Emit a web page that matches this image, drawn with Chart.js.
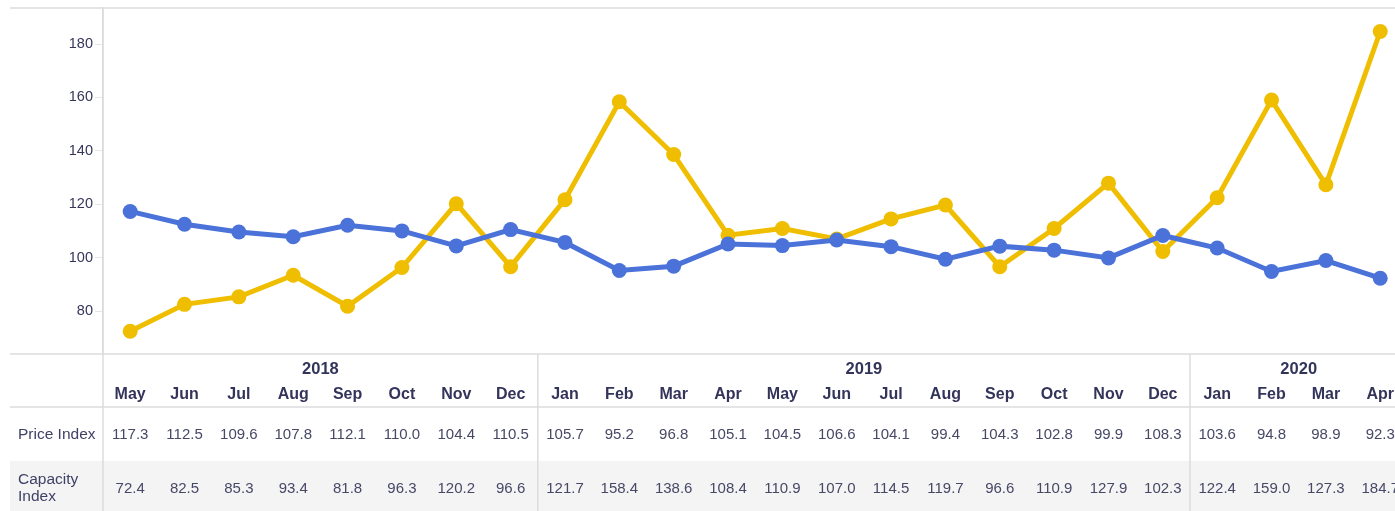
<!DOCTYPE html>
<html>
<head>
<meta charset="utf-8">
<script src="https://cdn.jsdelivr.net/npm/chart.js@4.4.1/dist/chart.umd.min.js"></script>
<style>
  html, body { margin: 0; padding: 0; background: #ffffff; overflow: hidden; width: 1395px; height: 511px; }
  #wrap { position: relative; width: 1420px; height: 511px; }
</style>
</head>
<body>
<div id="wrap"><canvas id="c"></canvas></div>
<script>
const months = ['May','Jun','Jul','Aug','Sep','Oct','Nov','Dec','Jan','Feb','Mar','Apr','May','Jun','Jul','Aug','Sep','Oct','Nov','Dec','Jan','Feb','Mar','Apr'];
const yearLabels = ['2018','2019','2020'];
const yearSpans = [8, 12, 4];
const priceIndex = [117.3,112.5,109.6,107.8,112.1,110.0,104.4,110.5,105.7,95.2,96.8,105.1,104.5,106.6,104.1,99.4,104.3,102.8,99.9,108.3,103.6,94.8,98.9,92.3];
const capacityIndex = [72.4,82.5,85.3,93.4,81.8,96.3,120.2,96.6,121.7,158.4,138.6,108.4,110.9,107.0,114.5,119.7,96.6,110.9,127.9,102.3,122.4,159.0,127.3,184.7];
const rowLabels = ['Price Index', 'Capacity Index'];
const yTicks = [80, 100, 120, 140, 160, 180];

const BLUE = '#4a72d9';
const YELLOW = '#f0be00';
const LINE = '#dcdcdc';
const FONT = '"Liberation Sans", Arial, sans-serif';

const tablePlugin = {
  id: 'tablePlugin',
  afterDraw(chart) {
    const ctx = chart.ctx;
    const x = chart.scales.x;
    const area = chart.chartArea;
    const W = chart.width;
    const n = months.length;
    const colW = (area.right - area.left) / n;
    const yTop = area.top, yHead = area.bottom, yRow1 = 407, yRow2 = 461, yEnd = 511;
    ctx.save();
    ctx.fillStyle = '#f4f4f4';
    ctx.fillRect(10, yRow2, W - 10, yEnd - yRow2);
    ctx.strokeStyle = LINE;
    ctx.lineWidth = 1.5;
    [yTop, yHead, yRow1].forEach(yy => {
      ctx.beginPath(); ctx.moveTo(10, yy); ctx.lineTo(W, yy); ctx.stroke();
    });
    ctx.beginPath(); ctx.moveTo(area.left, yTop); ctx.lineTo(area.left, yEnd); ctx.stroke();
    let idx = 0;
    const yearBounds = [];
    yearSpans.forEach((span, k) => {
      const start = idx, end = idx + span - 1;
      const left = x.getPixelForValue(start) - colW / 2;
      const right = x.getPixelForValue(end) + colW / 2;
      yearBounds.push([left, right]);
      if (k > 0) {
        ctx.beginPath(); ctx.moveTo(left, yHead); ctx.lineTo(left, yEnd); ctx.stroke();
      }
      idx += span;
    });
    ctx.fillStyle = '#33345a';
    ctx.font = 'bold 16.5px ' + FONT;
    ctx.textAlign = 'center';
    ctx.textBaseline = 'middle';
    yearLabels.forEach((yl, k) => {
      ctx.fillText(yl, (yearBounds[k][0] + yearBounds[k][1]) / 2, 369);
    });
    ctx.font = 'bold 16px ' + FONT;
    months.forEach((m, i) => {
      ctx.fillText(m, x.getPixelForValue(i), 395);
    });
    ctx.font = '15px ' + FONT;
    ctx.fillStyle = '#474866';
    priceIndex.forEach((v, i) => ctx.fillText(v.toFixed(1), x.getPixelForValue(i), 435));
    capacityIndex.forEach((v, i) => ctx.fillText(v.toFixed(1), x.getPixelForValue(i), 489));
    ctx.textAlign = 'left';
    ctx.font = '15.5px ' + FONT;
    ctx.fillStyle = '#3f4166';
    ctx.fillText(rowLabels[0], 18, 435);
    const parts = rowLabels[1].split(' ');
    ctx.fillText(parts[0], 18, 480);
    ctx.fillText(parts[1], 18, 497);
    ctx.restore();
  }
};

new Chart(document.getElementById('c'), {
  type: 'line',
  data: {
    labels: months,
    datasets: [
      { label: rowLabels[0], data: priceIndex, borderColor: BLUE, backgroundColor: BLUE, borderWidth: 5, pointRadius: 7.5, pointBorderWidth: 0, pointBackgroundColor: BLUE, tension: 0 },
      { label: rowLabels[1], data: capacityIndex, borderColor: YELLOW, backgroundColor: YELLOW, borderWidth: 5, pointRadius: 7.5, pointBorderWidth: 0, pointBackgroundColor: YELLOW, tension: 0 }
    ]
  },
  options: {
    responsive: true,
    maintainAspectRatio: false,
    animation: false,
    layout: { padding: { left: 0, top: 8, right: 12.6, bottom: 157 } },
    plugins: { legend: { display: false }, tooltip: { enabled: false } },
    scales: {
      x: { type: 'category', offset: true, display: false },
      y: {
        min: 63.9, max: 193.5,
        afterFit(scale) { scale.width = 103; scale.paddingTop = 0; scale.paddingBottom = 0; },
        afterBuildTicks(scale) { scale.ticks = yTicks.map(v => ({ value: v })); },
        grid: { display: true, drawOnChartArea: false, drawTicks: true, tickLength: 8, color: '#e6e6e6' },
        border: { display: true, color: LINE, width: 1.5 },
        ticks: { padding: 2, color: '#35365a', font: { family: FONT, size: 14.5 } }
      }
    }
  },
  plugins: [tablePlugin]
});
</script>
</body>
</html>
